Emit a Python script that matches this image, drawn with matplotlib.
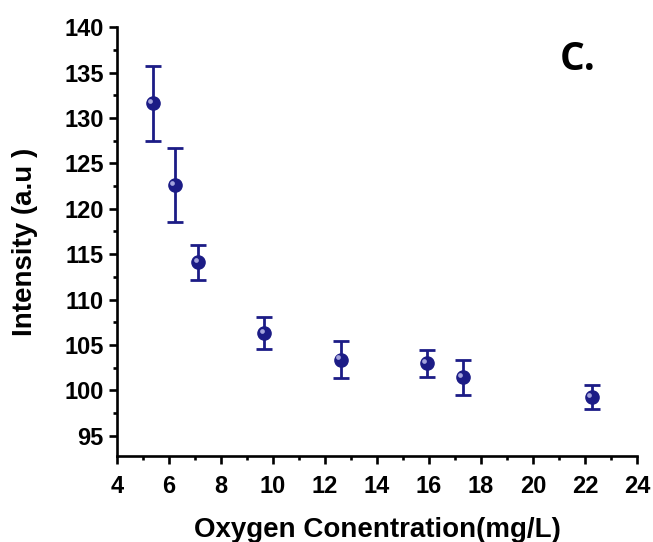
import matplotlib
matplotlib.use("Agg")
import matplotlib.pyplot as plt
import matplotlib.transforms as mtransforms
from matplotlib.ticker import MultipleLocator

# data
oxygen = [5.37, 6.23, 7.13, 9.67, 12.6, 15.91, 17.3, 22.26]
intensity = [131.6, 122.6, 114.1, 106.3, 103.4, 103.0, 101.45, 99.25]
err = [4.1, 4.1, 1.9, 1.75, 2.0, 1.5, 1.95, 1.3]

navy = "#1c1c86"

plt.rcParams["font.family"] = ["Liberation Sans", "DejaVu Sans"]
plt.rcParams["font.weight"] = "bold"

fig = plt.figure(figsize=(6.53, 5.42), dpi=100)
ax = fig.add_axes([0.179, 0.159, 0.7965, 0.791])

ax.errorbar(oxygen, intensity, yerr=err, fmt="o", color=navy, ecolor=navy,
            elinewidth=2.0, capsize=6, capthick=2.0, markersize=9.5,
            markeredgecolor=navy, zorder=3)

# little highlight on the spheres
shift = mtransforms.ScaledTranslation(-2 / 72, 1.5 / 72, fig.dpi_scale_trans)
ax.plot(oxygen, intensity, "o", color="#a4a4dc", markersize=3.4,
        markeredgewidth=0, transform=ax.transData + shift, zorder=4)

ax.set_xlim(4, 24)
ax.set_ylim(92.8, 140)
ax.xaxis.set_major_locator(MultipleLocator(2))
ax.xaxis.set_minor_locator(MultipleLocator(1))
ax.yaxis.set_minor_locator(MultipleLocator(2.5))
ax.set_yticks([95, 100, 105, 110, 115, 120, 125, 130, 135, 140])

for side in ["top", "right"]:
    ax.spines[side].set_visible(False)
for side in ["left", "bottom"]:
    ax.spines[side].set_linewidth(1.9)

ax.tick_params(which="major", direction="out", length=5.5, width=1.9,
               labelsize=17)
ax.tick_params(axis="x", which="major", pad=8)
ax.tick_params(axis="y", which="major", pad=4)
ax.tick_params(which="minor", direction="out", length=3.2, width=1.9)
for lab in ax.get_xticklabels() + ax.get_yticklabels():
    lab.set_fontweight("bold")

ax.set_xlabel("Oxygen Conentration(mg/L)", fontsize=20, fontweight="bold",
              labelpad=14)
ax.set_ylabel("Intensity (a.u )", fontsize=20, fontweight="bold", labelpad=19)

fig.text(0.884, 0.87, "C.", fontsize=28, fontweight="bold",
         family=["Open Sans", "DejaVu Sans"], ha="center", va="baseline")

fig.savefig("out.png", dpi=100, facecolor="white")
